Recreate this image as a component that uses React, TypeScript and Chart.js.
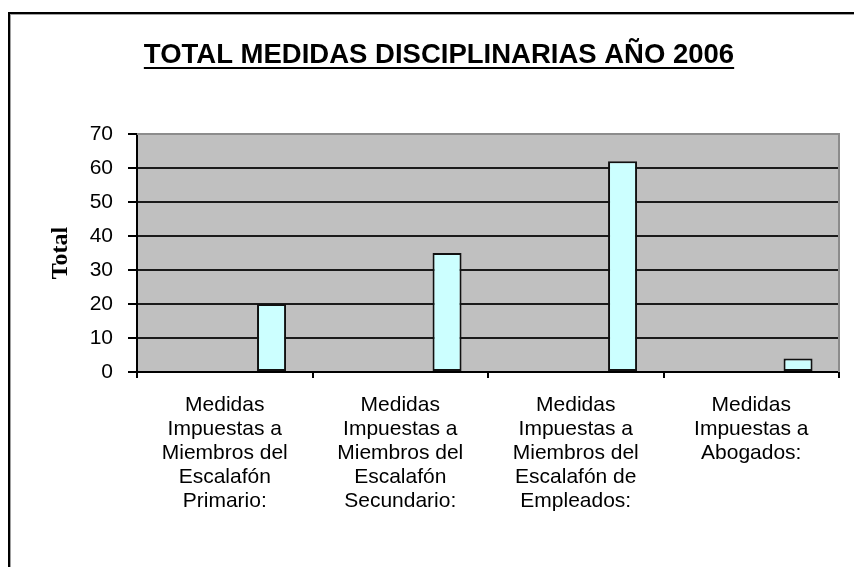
import { useEffect, useRef } from "react";
import { Chart, registerables } from "chart.js";

Chart.register(...registerables);

const chartTitle = "TOTAL MEDIDAS DISCIPLINARIAS AÑO 2006";
const yAxisTitle = "Total";
const categories: string[][] = [
  ["Medidas", "Impuestas a", "Miembros del", "Escalafón", "Primario:"],
  ["Medidas", "Impuestas a", "Miembros del", "Escalafón", "Secundario:"],
  ["Medidas", "Impuestas a", "Miembros del", "Escalafón de", "Empleados:"],
  ["Medidas", "Impuestas a", "Abogados:"],
];
const emptySeries1: (number | null)[] = [null, null, null, null];
const emptySeries2: (number | null)[] = [null, null, null, null];
const totals: number[] = [20, 35, 62, 4];
const yMin = 0;
const yMax = 70;
const yStep = 10;

const decorPlugin = {
  id: "decor",
  beforeDraw(chart: any) {
    const { ctx, chartArea: a } = chart;
    ctx.save();
    ctx.fillStyle = "#ffffff";
    ctx.fillRect(0, 0, chart.width, chart.height);
    // outer frame
    ctx.fillStyle = "#000000";
    ctx.fillRect(8, 12, 2, chart.height);
    ctx.fillRect(8, 12, chart.width, 2);
    ctx.fillStyle = "#a0a0a0";
    ctx.fillRect(10, 14, 1, chart.height);
    ctx.fillRect(10, 14, chart.width, 1);
    // plot area
    ctx.fillStyle = "#C0C0C0";
    ctx.fillRect(a.left, a.top, a.right - a.left, a.bottom - a.top);
    ctx.restore();
  },
  afterDraw(chart: any) {
    const { ctx, chartArea: a } = chart;
    ctx.save();
    // plot border top/right
    ctx.strokeStyle = "#8c8c8c";
    ctx.lineWidth = 2;
    ctx.beginPath();
    ctx.moveTo(a.left, a.top);
    ctx.lineTo(a.right, a.top);
    ctx.lineTo(a.right, a.bottom);
    ctx.stroke();
    // title
    ctx.font = "bold 27.5px 'Liberation Sans', Arial, sans-serif";
    ctx.fillStyle = "#000";
    ctx.textAlign = "center";
    ctx.textBaseline = "alphabetic";
    const cx = 439;
    ctx.fillText(chartTitle, cx, 63);
    const w = ctx.measureText(chartTitle).width;
    ctx.fillRect(cx - w / 2, 67, w, 2);
    ctx.restore();
  },
};

export default function App() {
  const ref = useRef<HTMLCanvasElement | null>(null);

  useEffect(() => {
    if (!ref.current) return;
    const chart = new Chart(ref.current, {
      type: "bar",
      data: {
        labels: categories,
        datasets: [
          { label: "Serie 1", data: emptySeries1, backgroundColor: "#CCFFFF" },
          { label: "Serie 2", data: emptySeries2, backgroundColor: "#CCFFFF" },
          {
            label: "Total",
            data: totals,
            backgroundColor: "#CCFFFF",
            borderColor: "#111111",
            borderWidth: 2,
            borderSkipped: false,
          },
        ],
      },
      options: {
        responsive: false,
        animation: false,
        events: [],
        categoryPercentage: 0.8,
        barPercentage: 0.62,
        layout: { padding: { top: 134, right: 15, left: 0, bottom: 0 } },
        plugins: {
          legend: { display: false },
          title: { display: false },
          tooltip: { enabled: false },
        },
        scales: {
          x: {
            afterFit: (s: any) => {
              s.height = 195;
            },
            border: { color: "#000", width: 2 },
            grid: {
              offset: true,
              drawOnChartArea: false,
              drawTicks: true,
              tickLength: 6,
              color: "#000",
              lineWidth: 2,
            },
            ticks: {
              autoSkip: false,
              maxRotation: 0,
              minRotation: 0,
              padding: 15,
              color: "#000",
              font: { family: "'Liberation Sans', Arial, sans-serif", size: 21, lineHeight: 24 / 21 },
            },
          },
          y: {
            min: yMin,
            max: yMax,
            afterFit: (s: any) => {
              s.width = 137;
            },
            border: { color: "#000", width: 2 },
            grid: {
              color: (c: any) => (c.tick && c.tick.value === yMax ? "rgba(0,0,0,0)" : "#1a1a1a"),
              tickColor: "#000",
              lineWidth: 2,
              tickLength: 9,
            },
            ticks: {
              stepSize: yStep,
              padding: 15,
              color: "#000",
              font: { family: "'Liberation Sans', Arial, sans-serif", size: 21 },
            },
            title: {
              display: true,
              text: yAxisTitle,
              color: "#000",
              padding: { top: 46, bottom: 0 },
              font: { family: "'Liberation Serif', 'Times New Roman', serif", size: 24, weight: "bold" },
            },
          },
        },
      },
      plugins: [decorPlugin],
    } as any);
    return () => chart.destroy();
  }, []);

  return (
    <div style={{ position: "fixed", left: 0, top: 0, width: 854, height: 567, background: "#fff" }}>
      <canvas ref={ref} width={854} height={567} style={{ display: "block" }} />
    </div>
  );
}
